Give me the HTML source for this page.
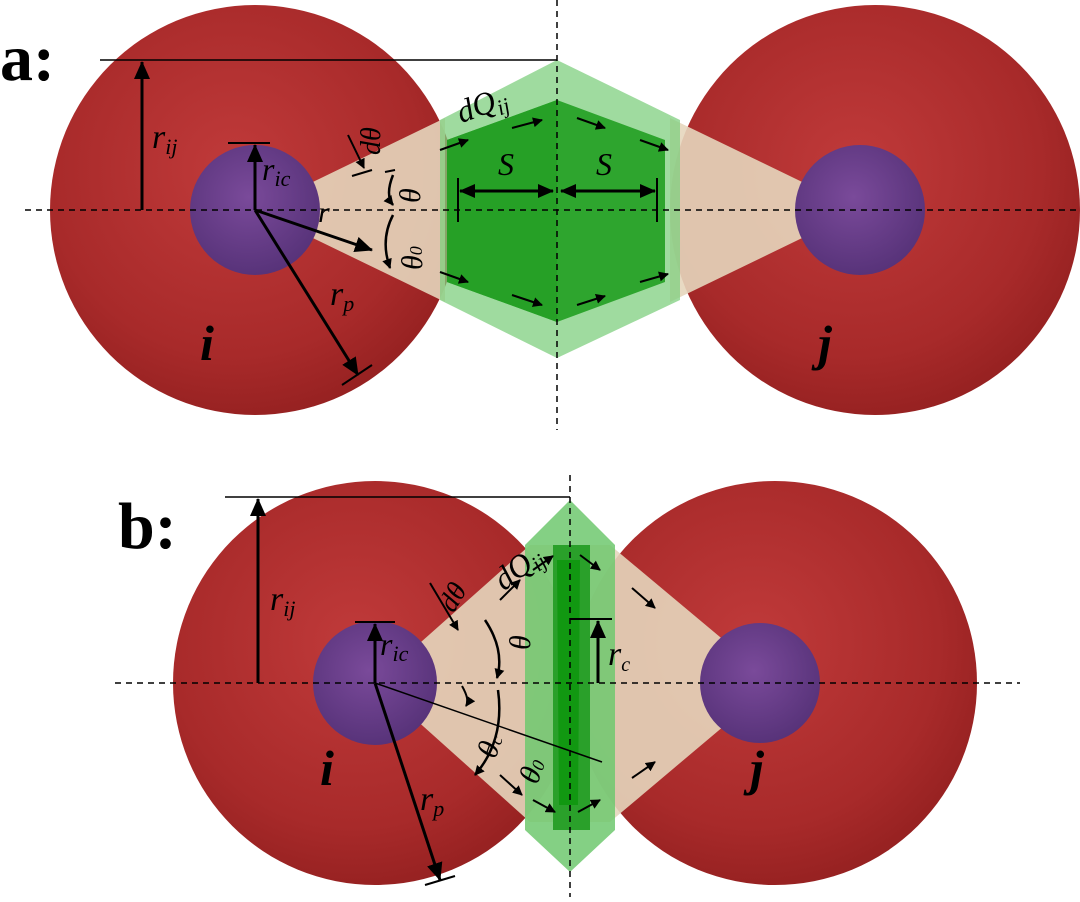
<!DOCTYPE html>
<html><head><meta charset="utf-8"><style>
html,body{margin:0;padding:0;background:#fff;}
svg text{font-family:"Liberation Serif",serif;font-style:italic;}
svg text.n{font-style:normal;font-weight:bold;}
</style></head><body>
<svg width="1080" height="897" viewBox="0 0 1080 897" xmlns="http://www.w3.org/2000/svg">
<defs>
<radialGradient id="rs" cx="0.45" cy="0.4" r="0.65">
<stop offset="0" stop-color="#c03a3a"/><stop offset="0.7" stop-color="#a82a2a"/><stop offset="1" stop-color="#921f1f"/></radialGradient>
<radialGradient id="ps" cx="0.45" cy="0.4" r="0.65">
<stop offset="0" stop-color="#7a4a9a"/><stop offset="1" stop-color="#553177"/></radialGradient>
<marker id="ah" markerWidth="10" markerHeight="10" refX="9" refY="5" orient="auto" markerUnits="userSpaceOnUse"><path d="M0,0 L10,5 L0,10 z" fill="#000"/></marker>
<marker id="ab" markerWidth="18" markerHeight="16" refX="17" refY="8" orient="auto" markerUnits="userSpaceOnUse"><path d="M0,0 L18,8 L0,16 z" fill="#000"/></marker>
<marker id="as" markerWidth="16" markerHeight="14" refX="15" refY="7" orient="auto-start-reverse" markerUnits="userSpaceOnUse"><path d="M0,0 L16,7 L0,14 z" fill="#000"/></marker>
</defs>

<!-- Panel a -->
<circle cx="255" cy="210" r="205" fill="url(#rs)"/>
<circle cx="875" cy="210" r="205" fill="url(#rs)"/>
<polygon points="255,210 445,118 445,302" fill="#e6d6bc" opacity="0.9"/>
<polygon points="860,210 670,118 670,302" fill="#e6d6bc" opacity="0.9"/>
<polygon points="440,120 557,60 680,120 680,300 557,358 440,300" fill="#7fcf7f" opacity="0.75"/>
<polygon points="447,140 557,100 665,140 665,282 557,322 447,282" fill="#2ea52e"/>
<polygon points="447,140 557,100 557,322 447,282" fill="#26a026"/>
<circle cx="255" cy="210" r="65" fill="url(#ps)"/>
<circle cx="860" cy="210" r="65" fill="url(#ps)"/>
<line x1="25" y1="210" x2="1080" y2="210" stroke="#000" stroke-width="1.5" stroke-dasharray="6,5"/>
<line x1="557" y1="0" x2="557" y2="430" stroke="#000" stroke-width="1.5" stroke-dasharray="6,5"/>
<line x1="100" y1="60" x2="557" y2="60" stroke="#000" stroke-width="1.5"/>
<line x1="142" y1="210" x2="142" y2="62" stroke="#000" stroke-width="3" marker-end="url(#ab)"/>
<text x="152" y="148" font-size="34">r<tspan font-size="22" dy="6">ij</tspan></text>
<line x1="228" y1="143" x2="270" y2="143" stroke="#000" stroke-width="2"/>
<line x1="255" y1="210" x2="255" y2="145" stroke="#000" stroke-width="3" marker-end="url(#ab)"/>
<text x="262" y="180" font-size="32">r<tspan font-size="22" dy="6">ic</tspan></text>
<line x1="255" y1="210" x2="372" y2="250" stroke="#000" stroke-width="3" marker-end="url(#ab)"/>
<text x="318" y="222" font-size="30">r</text>
<line x1="255" y1="210" x2="358" y2="375" stroke="#000" stroke-width="3" marker-end="url(#ab)"/>
<line x1="342" y1="385" x2="372" y2="365" stroke="#000" stroke-width="2"/>
<text x="330" y="305" font-size="34">r<tspan font-size="22" dy="6">p</tspan></text>
<text x="200" y="360" font-size="50" font-weight="bold">i</text>
<text x="818" y="360" font-size="50" font-weight="bold">j</text>
<text class="n" x="0" y="80" font-size="66">a:</text>
<path d="M393,175 Q385,195 393,205" fill="none" stroke="#000" stroke-width="2.5" marker-end="url(#ah)"/>
<path d="M393,215 Q380,240 390,268" fill="none" stroke="#000" stroke-width="2.5" marker-end="url(#ah)"/>
<line x1="348" y1="135" x2="364" y2="168" stroke="#000" stroke-width="2" marker-end="url(#ah)"/>
<line x1="352" y1="176" x2="372" y2="170" stroke="#000" stroke-width="2"/>
<line x1="385" y1="172" x2="395" y2="170" stroke="#000" stroke-width="2"/>
<text x="392" y="195" font-size="30" transform="rotate(-90 410 185)">θ</text>
<text x="390" y="262" font-size="30" transform="rotate(-90 410 250)">θ<tspan font-size="18">0</tspan></text>
<text x="355" y="150" font-size="28" transform="rotate(-90 370 140)">dθ</text>
<text x="455" y="112" font-size="32" transform="rotate(-20 490 100)">dQ<tspan font-size="22" dy="6">ij</tspan></text>
<line x1="458" y1="178" x2="458" y2="222" stroke="#000" stroke-width="2"/>
<line x1="657" y1="178" x2="657" y2="222" stroke="#000" stroke-width="2"/>
<line x1="460" y1="191" x2="553" y2="191" stroke="#000" stroke-width="3" marker-start="url(#as)" marker-end="url(#as)"/>
<line x1="561" y1="191" x2="655" y2="191" stroke="#000" stroke-width="3" marker-start="url(#as)" marker-end="url(#as)"/>
<text x="498" y="175" font-size="32">S</text>
<text x="596" y="175" font-size="32">S</text>
<g stroke="#000" stroke-width="2" marker-end="url(#ah)">
<line x1="440" y1="150" x2="468" y2="140"/><line x1="512" y1="128" x2="542" y2="120"/>
<line x1="577" y1="118" x2="605" y2="128"/><line x1="640" y1="140" x2="668" y2="150"/>
<line x1="440" y1="272" x2="468" y2="282"/><line x1="512" y1="295" x2="542" y2="305"/>
<line x1="577" y1="305" x2="605" y2="296"/><line x1="640" y1="282" x2="668" y2="274"/>
</g>

<!-- Panel b -->
<circle cx="375" cy="683" r="202" fill="url(#rs)"/>
<circle cx="775" cy="683" r="202" fill="url(#rs)"/>
<polygon points="375,683 530,545 610,545 775,683 610,822 530,822" fill="#e6d6bc" opacity="0.9"/>
<polygon points="570,500 615,545 615,830 570,872 525,830 525,545" fill="#6fc86f" opacity="0.85"/>
<polygon points="553,545 590,545 590,830 553,830" fill="#2aa02a"/>
<polygon points="557,560 580,560 578,805 559,805" fill="#119811"/>
<circle cx="375" cy="683" r="62" fill="url(#ps)"/>
<circle cx="760" cy="683" r="60" fill="url(#ps)"/>
<line x1="115" y1="683" x2="1020" y2="683" stroke="#000" stroke-width="1.5" stroke-dasharray="6,5"/>
<line x1="570" y1="475" x2="570" y2="897" stroke="#000" stroke-width="1.5" stroke-dasharray="6,5"/>
<line x1="225" y1="497" x2="570" y2="497" stroke="#000" stroke-width="1.5"/>
<line x1="258" y1="683" x2="258" y2="499" stroke="#000" stroke-width="3" marker-end="url(#ab)"/>
<text x="270" y="610" font-size="34">r<tspan font-size="22" dy="6">ij</tspan></text>
<line x1="355" y1="622" x2="395" y2="622" stroke="#000" stroke-width="2"/>
<line x1="375" y1="683" x2="375" y2="624" stroke="#000" stroke-width="3" marker-end="url(#ab)"/>
<text x="380" y="655" font-size="32">r<tspan font-size="22" dy="6">ic</tspan></text>
<line x1="375" y1="683" x2="602" y2="762" stroke="#000" stroke-width="1.5"/>
<line x1="375" y1="683" x2="440" y2="880" stroke="#000" stroke-width="3" marker-end="url(#ab)"/>
<line x1="425" y1="885" x2="455" y2="876" stroke="#000" stroke-width="2"/>
<text x="420" y="810" font-size="34">r<tspan font-size="22" dy="6">p</tspan></text>
<text x="320" y="785" font-size="50" font-weight="bold">i</text>
<text x="750" y="785" font-size="50" font-weight="bold">j</text>
<text class="n" x="118" y="548" font-size="66">b:</text>
<line x1="570" y1="619" x2="612" y2="619" stroke="#000" stroke-width="2"/>
<line x1="598" y1="683" x2="598" y2="621" stroke="#000" stroke-width="3" marker-end="url(#ab)"/>
<text x="608" y="665" font-size="34">r<tspan font-size="20" dy="6">c</tspan></text>
<path d="M485,620 Q505,650 497,678" fill="none" stroke="#000" stroke-width="2.5" marker-end="url(#ah)"/>
<path d="M498,690 Q505,740 475,775" fill="none" stroke="#000" stroke-width="2.5" marker-end="url(#ah)"/>
<path d="M462,686 Q470,700 466,706" fill="none" stroke="#000" stroke-width="2" marker-end="url(#ah)"/>
<line x1="430" y1="583" x2="458" y2="630" stroke="#000" stroke-width="2" marker-end="url(#ah)"/>
<text x="510" y="650" font-size="30" transform="rotate(-90 520 640)">θ</text>
<text x="478" y="755" font-size="30" transform="rotate(-70 490 745)">θ<tspan font-size="18">c</tspan></text>
<text x="518" y="782" font-size="30" transform="rotate(-70 530 770)">θ<tspan font-size="18">0</tspan></text>
<text x="440" y="610" font-size="28" transform="rotate(-60 450 600)">dθ</text>
<text x="488" y="575" font-size="32" transform="rotate(-38 520 560)">dQ<tspan font-size="22" dy="6">ij</tspan></text>
<g stroke="#000" stroke-width="2" marker-end="url(#ah)">
<line x1="500" y1="600" x2="520" y2="580"/><line x1="533" y1="570" x2="553" y2="556"/>
<line x1="580" y1="555" x2="600" y2="570"/><line x1="632" y1="588" x2="655" y2="608"/>
<line x1="500" y1="775" x2="522" y2="795"/><line x1="533" y1="800" x2="555" y2="812"/>
<line x1="578" y1="812" x2="600" y2="800"/><line x1="632" y1="778" x2="655" y2="762"/>
</g>
</svg>
</body></html>
